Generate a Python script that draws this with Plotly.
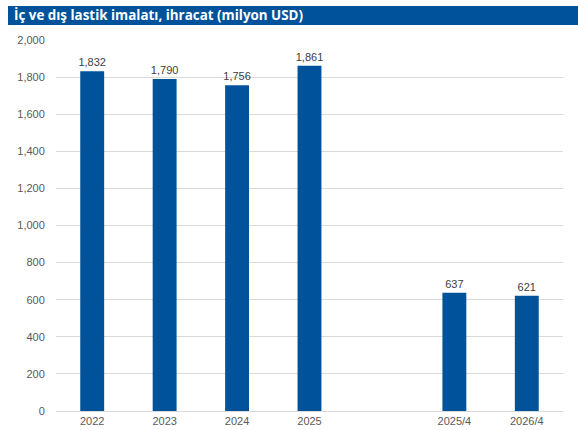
import plotly.graph_objects as go

categories = ["2022", "2023", "2024", "2025", " ", "2025/4", "2026/4"]
values = [1832, 1790, 1756, 1861, None, 637, 621]
labels = ["1,832", "1,790", "1,756", "1,861", "", "637", "621"]
title_text = "İç ve dış lastik imalatı, ihracat (milyon USD)"

fig = go.Figure()
fig.add_trace(go.Bar(
    x=categories, y=values, text=labels, textposition="outside",
    textfont=dict(family="Liberation Sans, Arial", size=11, color="#404040"),
    marker=dict(color="#00529B", line=dict(width=0)),
    cliponaxis=False,
))

fig.update_layout(
    width=578, height=430,
    margin=dict(l=56, r=15, t=40, b=19, autoexpand=False),
    paper_bgcolor="white", plot_bgcolor="white",
    bargap=0.67, showlegend=False,
    uniformtext=dict(minsize=11, mode="show"),
    font=dict(family="Liberation Sans, Arial", size=11, color="#595959"),
    xaxis=dict(type="category", categoryorder="array", categoryarray=categories,
               showgrid=False, showline=True, linecolor="#D9D9D9", linewidth=1,
               ticks="", automargin=False, tickfont=dict(size=11, color="#595959")),
    yaxis=dict(range=[0, 2000], dtick=200, tickformat=",d", showgrid=True,
               gridcolor="#D9D9D9", gridwidth=1, zeroline=False, showline=False,
               ticks="outside", ticklen=8, tickcolor="rgba(0,0,0,0)", automargin=False,
               tickfont=dict(size=11, color="#595959")),
    shapes=[dict(type="rect", xref="paper", yref="paper",
                 x0=(8 - 56) / 507, x1=(578 - 56) / 507,
                 y0=(411 - 25) / 371, y1=(411 - 6) / 371,
                 fillcolor="#00529B", line=dict(width=0), layer="above")],
    annotations=[dict(text="<b>" + title_text + "</b>", xref="paper", yref="paper",
                      x=(12 - 56) / 507, y=(411 - 15.5) / 371,
                      xanchor="left", yanchor="middle", showarrow=False,
                      font=dict(family="Open Sans", size=13.4, color="white"))],
)

fig.write_html("out.html", config={"displayModeBar": False},
               post_script="document.body.style.margin='0';document.body.style.overflow='hidden';")
